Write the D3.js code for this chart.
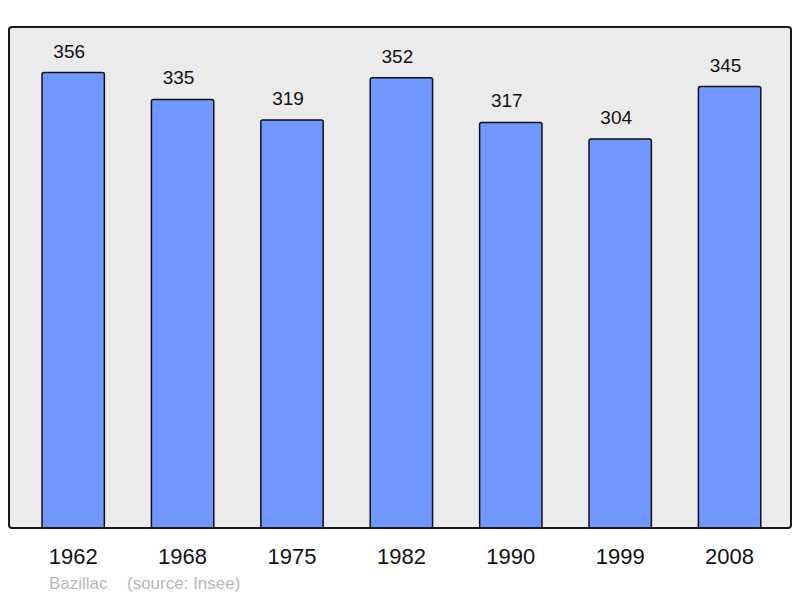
<!DOCTYPE html>
<html>
<head>
<meta charset="utf-8">
<script src="https://cdn.jsdelivr.net/npm/d3@7"></script>
<style>
  body { margin: 0; background: #fff; }
  text { font-family: "Liberation Sans", Arial, sans-serif; }
</style>
</head>
<body>
<div id="chart"></div>
<script>
const years = ['1962', '1968', '1975', '1982', '1990', '1999', '2008'];
const population = [356, 335, 319, 352, 317, 304, 345];
const commune = 'Bazillac';
const source = '(source: Insee)';

const width = 800;
const height = 598;
const frame = { x: 9, y: 27, w: 782, h: 501 };

const svg = d3.select('#chart')
  .append('svg')
  .attr('width', width)
  .attr('height', height);

svg.append('rect')
  .attr('x', frame.x)
  .attr('y', frame.y)
  .attr('width', frame.w)
  .attr('height', frame.h)
  .attr('rx', 3)
  .attr('fill', '#ebebeb')
  .attr('stroke', '#1a1a1a')
  .attr('stroke-width', 2);

const fx = d3.scaleBand()
  .domain(years)
  .range([18.5, 784.3])
  .paddingInner(0.43)
  .paddingOuter(0.215);

const fy = d3.scaleLinear()
  .domain([0, d3.max(population) * 1.1])
  .range([frame.y + frame.h, frame.y]);

const data = years.map((y, i) => ({ year: y, value: population[i] }));

// bars with slightly rounded tops, bottom hidden under frame edge
svg.selectAll('.bar')
  .data(data)
  .join('path')
  .attr('class', 'bar')
  .attr('d', d => {
    const x0 = fx(d.year);
    const x1 = x0 + fx.bandwidth();
    const y0 = fy(d.value);
    const y1 = fy(0);
    const r = 2;
    return `M${x0},${y1}V${y0 + r}Q${x0},${y0} ${x0 + r},${y0}H${x1 - r}Q${x1},${y0} ${x1},${y0 + r}V${y1}`;
  })
  .attr('fill', '#7097ff')
  .attr('stroke', '#111')
  .attr('stroke-width', 1.5);

// redraw frame bottom over bars
svg.append('line')
  .attr('x1', frame.x + 2)
  .attr('x2', frame.x + frame.w - 2)
  .attr('y1', frame.y + frame.h)
  .attr('y2', frame.y + frame.h)
  .attr('stroke', '#1a1a1a')
  .attr('stroke-width', 2);

svg.selectAll('.value')
  .data(data)
  .join('text')
  .attr('class', 'value')
  .attr('text-anchor', 'middle')
  .attr('x', d => fx(d.year) + fx.bandwidth() / 2 - 4)
  .attr('y', d => fy(d.value) - 15)
  .attr('font-size', 19)
  .attr('fill', '#111')
  .text(d => d.value);

svg.selectAll('.year')
  .data(data)
  .join('text')
  .attr('class', 'year')
  .attr('text-anchor', 'middle')
  .attr('x', d => fx(d.year) + fx.bandwidth() / 2)
  .attr('y', 564)
  .attr('font-size', 22)
  .attr('fill', '#111')
  .text(d => d.year);

svg.append('text')
  .attr('x', 49)
  .attr('y', 589)
  .attr('font-size', 17)
  .attr('fill', '#b8b8b8')
  .text(commune);

svg.append('text')
  .attr('x', 127)
  .attr('y', 589)
  .attr('font-size', 17)
  .attr('fill', '#b8b8b8')
  .text(source);
</script>
</body>
</html>
